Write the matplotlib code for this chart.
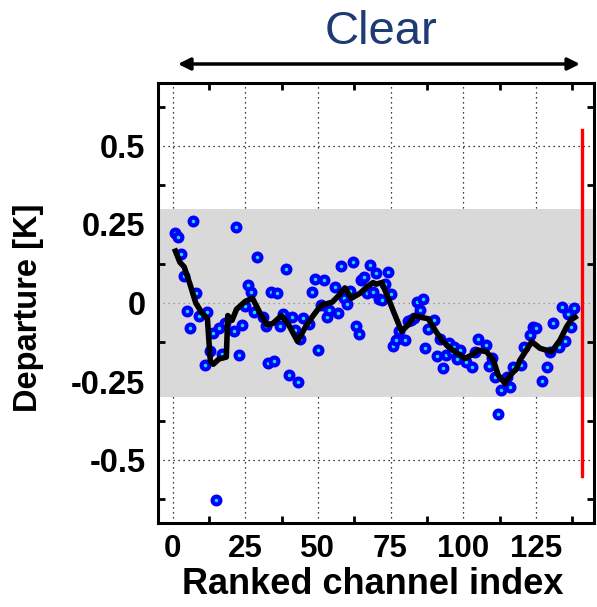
import matplotlib
matplotlib.use("Agg")
import matplotlib.pyplot as plt
import numpy as np

# ---- data ----
chan_idx = [1, 2, 3, 4, 5, 6, 7, 8, 9, 11, 12, 13, 14, 15, 16, 17, 18, 21, 22, 23,
            24, 25, 26, 27, 28, 29, 31, 32, 33, 34, 35, 36, 37, 38, 39, 40, 41, 42, 43, 44,
            45, 47, 48, 49, 50, 51, 52, 53, 54, 56, 57, 58, 59, 60, 61, 62, 63, 64, 65, 66,
            67, 68, 69, 70, 71, 72, 73, 74, 75, 76, 77, 78, 80, 81, 82, 83, 84, 85, 86, 87,
            88, 90, 91, 92, 93, 94, 95, 96, 97, 98, 99, 101, 103, 104, 105, 108, 109, 110, 111, 112,
            113, 115, 116, 117, 120, 121, 123, 124, 125, 127, 129, 130, 131, 133, 134, 135, 136, 137, 138]
departure = [0.222, 0.209, 0.155, 0.087, -0.024, -0.079, 0.260, 0.032, -0.040, -0.197,
             -0.030, -0.152, -0.094, -0.627, -0.081, -0.162, -0.063, -0.090, 0.243, -0.166,
             -0.070, -0.011, 0.058, 0.035, -0.030, 0.146, -0.046, -0.074, -0.190, 0.035,
             -0.185, 0.033, -0.073, -0.035, 0.107, -0.229, -0.045, -0.086, -0.250, -0.113,
             -0.049, -0.066, 0.035, 0.076, -0.151, -0.006, 0.073, -0.044, -0.021, 0.050,
             -0.032, 0.118, 0.017, -0.004, 0.039, 0.132, -0.073, -0.098, 0.072, 0.084,
             0.031, 0.121, 0.036, 0.096, 0.012, 0.008, 0.061, 0.099, 0.030, -0.136,
             -0.118, -0.089, -0.119, -0.056, -0.054, -0.049, 0.003, -0.022, 0.013, -0.144,
             -0.083, -0.055, -0.170, -0.116, -0.207, -0.166, -0.127, -0.155, -0.139, -0.177,
             -0.150, -0.187, -0.205, -0.155, -0.113, -0.134, -0.202, -0.175, -0.237, -0.354,
             -0.276, -0.237, -0.267, -0.205, -0.197, -0.140, -0.102, -0.075, -0.081, -0.249,
             -0.205, -0.155, -0.063, -0.140, -0.012, -0.120, -0.034, -0.075, -0.017]

mean_x = [1, 2.5, 4, 6, 8, 10, 12, 13, 14, 16, 18.5, 19, 20.5, 22, 25, 27.5, 30, 32.5,
          34.5, 37.5, 40, 43, 45.5, 48, 51, 55, 57, 59.3, 61.5, 64.5, 67, 69, 70, 72, 74,
          76.5, 78.8, 81, 83.4, 85.7, 88, 90.3, 92.6, 95.5, 97.2, 100.6, 102.9, 105.2, 108,
          110.4, 112, 114.4, 116, 118.4, 119.5, 123.6, 126.4, 130.4, 133.3, 135.6, 137.3, 138.5]
mean_y = [0.165, 0.13, 0.115, 0.06, 0.0, -0.03, -0.05, -0.185, -0.195, -0.178, -0.172,
          -0.04, -0.055, -0.02, 0.005, 0.015, -0.03, -0.07, -0.065, -0.04, -0.07, -0.122,
          -0.08, -0.045, -0.008, 0.003, 0.022, 0.048, 0.015, 0.031, 0.052, 0.065, 0.06,
          0.065, 0.02, -0.038, -0.09, -0.07, -0.04, -0.046, -0.05, -0.086, -0.118, -0.144,
          -0.155, -0.176, -0.166, -0.15, -0.155, -0.182, -0.229, -0.256, -0.232, -0.208,
          -0.182, -0.123, -0.144, -0.155, -0.118, -0.075, -0.052, -0.045]

band_limits = [-0.3, 0.3]
red_x = 141
red_span = [-0.55, 0.55]

x_ticks = [0, 25, 50, 75, 100, 125]
x_ticklabels = ["0", "25", "50", "75", "100", "125"]
y_ticks = [-0.5, -0.25, 0, 0.25, 0.5]
y_ticklabels = ["-0.5", "-0.25", "0", "0.25", "0.5"]
x_minor = [12.5, 37.5, 62.5, 87.5, 112.5, 137.5]
y_minor = [-0.625, -0.375, -0.125, 0.125, 0.375, 0.625]
grid_y = [-0.5, 0, 0.5]

plt.rcParams['font.family'] = ['Liberation Sans', 'DejaVu Sans']

fig = plt.figure(figsize=(5.97, 6.07), dpi=100)
ax = fig.add_axes([158/597, 1-523/607, (594-158)/597, (523-83)/607])

ax.set_xlim(-5, 145)
ax.set_ylim(-0.7, 0.7)

# grid
for gx in x_ticks:
    ax.axvline(gx, color='black', lw=0.9, ls=(0, (1, 3)), zorder=0)
for gy in grid_y:
    ax.axhline(gy, color='black', lw=0.9, ls=(0, (1, 3)), zorder=0)

ax.axhspan(band_limits[0], band_limits[1], color='#d9d9d9', lw=0, zorder=1)
ax.axhline(0, color='#888888', lw=0.9, ls=(0, (1, 3)), zorder=1.5)

ax.plot(chan_idx, departure, 'o', ms=5.6, mfc='#00e8ff', mec='#0000ff', mew=3.0, zorder=3,
        linestyle='none')
ax.plot(mean_x, mean_y, '-', color='black', lw=4.0, zorder=4)
ax.plot([red_x, red_x], red_span, '-', color='#ff0000', lw=2.4, zorder=5)

ax.set_xticks(x_ticks)
ax.set_xticklabels(x_ticklabels)
ax.set_yticks(y_ticks)
ax.set_yticklabels(y_ticklabels)
ax.set_xticks(x_minor, minor=True)
ax.set_yticks(y_minor, minor=True)
ax.tick_params(axis='y', which='major', length=0, labelsize=23.5, pad=9)
ax.tick_params(axis='x', which='major', length=0, labelsize=22.5, pad=8)
ax.tick_params(which='minor', direction='in', length=5, width=2,
               top=True, bottom=True, left=True, right=True)
for lab in ax.get_xticklabels() + ax.get_yticklabels():
    lab.set_fontweight('bold')

for sp in ax.spines.values():
    sp.set_linewidth(2.2)

ax.set_xlabel("Ranked channel index", fontsize=26, fontweight='bold')
ax.xaxis.set_label_coords(0.492, -0.0995)
ax.xaxis.label.set_va('top')
ax.set_ylabel("Departure [K]", fontsize=23.5, fontweight='bold')
ax.yaxis.set_label_coords(-0.262, 0.49)

fig.text(381/597, 1-32/607, "Clear", fontsize=34, color='#1f3b73',
         ha='center', va='center')
ax.annotate('', xy=(580/597, 1-64/607), xytext=(178/597, 1-64/607),
            xycoords='figure fraction', textcoords='figure fraction',
            arrowprops=dict(arrowstyle='<|-|>', color='black', lw=2.5,
                            mutation_scale=18, shrinkA=0, shrinkB=0))

fig.savefig("out.png", dpi=100)
